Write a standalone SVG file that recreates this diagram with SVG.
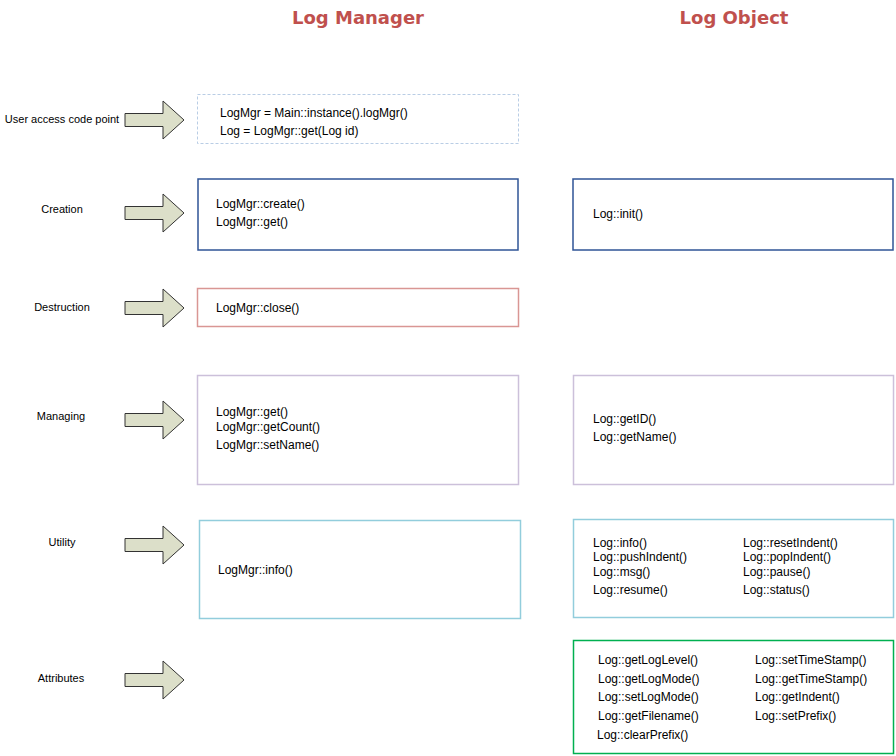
<svg xmlns="http://www.w3.org/2000/svg" width="896" height="756" viewBox="0 0 896 756">
<defs>
<style>
.t{font-family:"Liberation Sans",Arial,sans-serif;font-size:12px;fill:#000}
.l{font-family:"Liberation Sans",Arial,sans-serif;font-size:11px;fill:#000;text-anchor:middle}
.h{font-family:"DejaVu Sans",sans-serif;font-weight:bold;font-size:18px;fill:#c0504d;text-anchor:middle}
.box{fill:#fff}
.arr{fill:#dcdfc9;stroke:#333;stroke-width:1}
</style>
<path id="arrow" d="M125,-6.5 H163 V-19 L184,0 L163,19 V6.5 H125 Z"/>
</defs>
<rect width="896" height="756" fill="#fff"/>
<text class="h" x="358" y="24">Log Manager</text>
<text class="h" x="734" y="24">Log Object</text>

<g id="connectors">
<use href="#arrow" class="arr" y="120"/>
<use href="#arrow" class="arr" y="213"/>
<use href="#arrow" class="arr" y="308"/>
<use href="#arrow" class="arr" y="420"/>
<use href="#arrow" class="arr" y="545"/>
<use href="#arrow" class="arr" y="680"/>
</g>

<g id="labels">
<text class="l" x="62" y="123">User access code point</text>
<text class="l" x="62" y="213">Creation</text>
<text class="l" x="62" y="311">Destruction</text>
<text class="l" x="61" y="420">Managing</text>
<text class="l" x="62" y="546">Utility</text>
<text class="l" x="61" y="682">Attributes</text>
</g>

<g id="user-access">
<rect class="box" x="197.5" y="94.5" width="321" height="49" stroke="#b9cde5" stroke-width="1" stroke-dasharray="3,2"/>
<text class="t" x="220" y="117">LogMgr = Main::instance().logMgr()</text>
<text class="t" x="220" y="135">Log = LogMgr::get(Log id)</text>
</g>

<g id="mgr-creation">
<rect class="box" x="198" y="179" width="320" height="71" stroke="#2f5496" stroke-width="1.5"/>
<text class="t" x="216" y="208">LogMgr::create()</text>
<text class="t" x="216" y="226">LogMgr::get()</text>
</g>

<g id="mgr-destruction">
<rect class="box" x="197.5" y="288.5" width="321" height="38" stroke="#d99694" stroke-width="1.5"/>
<text class="t" x="216" y="312">LogMgr::close()</text>
</g>

<g id="mgr-managing">
<rect class="box" x="197.5" y="375.5" width="321" height="109" stroke="#ccc0da" stroke-width="1.5"/>
<text class="t" x="216" y="416">LogMgr::get()</text>
<text class="t" x="216" y="431">LogMgr::getCount()</text>
<text class="t" x="216" y="449">LogMgr::setName()</text>
</g>

<g id="mgr-utility">
<rect class="box" x="199.5" y="520.5" width="321" height="98" stroke="#92cddc" stroke-width="1.5"/>
<text class="t" x="218" y="574">LogMgr::info()</text>
</g>

<g id="log-creation">
<rect class="box" x="573" y="179" width="320" height="71" stroke="#2f5496" stroke-width="1.5"/>
<text class="t" x="593" y="218">Log::init()</text>
</g>

<g id="log-managing">
<rect class="box" x="573.5" y="375.5" width="320" height="109" stroke="#ccc0da" stroke-width="1.5"/>
<text class="t" x="593" y="423">Log::getID()</text>
<text class="t" x="593" y="441">Log::getName()</text>
</g>

<g id="log-utility">
<rect class="box" x="573.5" y="519.5" width="320" height="98" stroke="#92cddc" stroke-width="1.5"/>
<text class="t" x="593" y="547">Log::info()</text>
<text class="t" x="593" y="561">Log::pushIndent()</text>
<text class="t" x="593" y="576">Log::msg()</text>
<text class="t" x="593" y="594">Log::resume()</text>
<text class="t" x="743" y="547">Log::resetIndent()</text>
<text class="t" x="743" y="561">Log::popIndent()</text>
<text class="t" x="743" y="576">Log::pause()</text>
<text class="t" x="743" y="594">Log::status()</text>
</g>

<g id="log-attributes">
<rect class="box" x="573.5" y="640.5" width="320" height="113" stroke="#00b050" stroke-width="1.5"/>
<text class="t" x="598" y="664">Log::getLogLevel()</text>
<text class="t" x="598" y="683">Log::getLogMode()</text>
<text class="t" x="598" y="701">Log::setLogMode()</text>
<text class="t" x="598" y="720">Log::getFilename()</text>
<text class="t" x="597" y="739">Log::clearPrefix()</text>
<text class="t" x="755" y="664">Log::setTimeStamp()</text>
<text class="t" x="755" y="683">Log::getTimeStamp()</text>
<text class="t" x="755" y="701">Log::getIndent()</text>
<text class="t" x="755" y="720">Log::setPrefix()</text>
</g>
</svg>
